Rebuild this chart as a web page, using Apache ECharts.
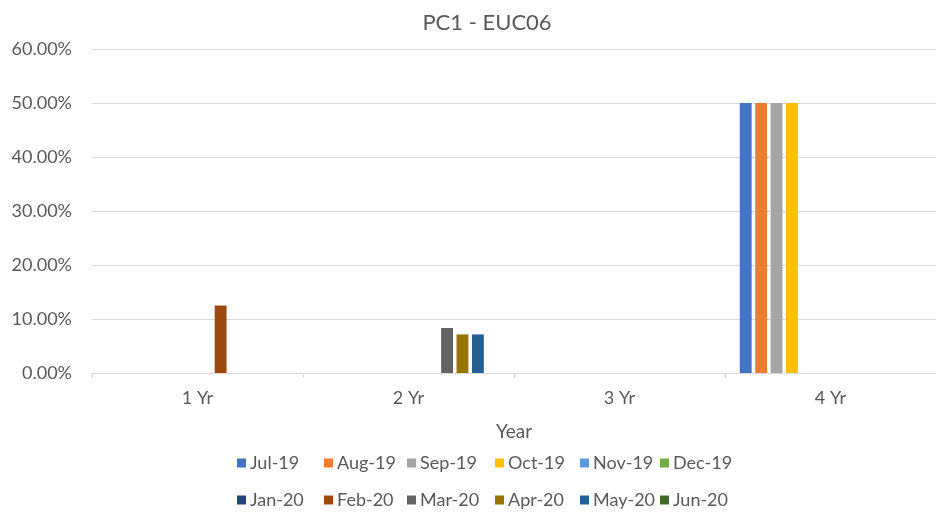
<!DOCTYPE html>
<html>
<head>
<meta charset="utf-8">
<script src="https://cdn.jsdelivr.net/npm/echarts@6/dist/echarts.min.js"></script>
<style>
  html, body { margin: 0; padding: 0; background: #ffffff; }
  #chart { width: 936px; height: 515px; }
</style>
</head>
<body>
<div id="chart"></div>
<script>
// Term buckets on the x axis
const categories = ['1 Yr', '2 Yr', '3 Yr', '4 Yr'];

// Month series (percent values per term bucket; null = no bar)
const months = ['Jul-19', 'Aug-19', 'Sep-19', 'Oct-19', 'Nov-19', 'Dec-19',
                'Jan-20', 'Feb-20', 'Mar-20', 'Apr-20', 'May-20', 'Jun-20'];
const jul19 = [null, null, null, 50];
const aug19 = [null, null, null, 50];
const sep19 = [null, null, null, 50];
const oct19 = [null, null, null, 50];
const nov19 = [null, null, null, null];
const dec19 = [null, null, null, null];
const jan20 = [null, null, null, null];
const feb20 = [12.5, null, null, null];
const mar20 = [null, 8.33, null, null];
const apr20 = [null, 7.14, null, null];
const may20 = [null, 7.14, null, null];
const jun20 = [null, null, null, null];
const seriesValues = [jul19, aug19, sep19, oct19, nov19, dec19,
                      jan20, feb20, mar20, apr20, may20, jun20];

// Y axis ticks
const yTicks = [0, 10, 20, 30, 40, 50, 60];

const colors = ['#4472C4', '#ED7D31', '#A5A5A5', '#FFC000', '#5B9BD5', '#70AD47',
                '#264478', '#9E480E', '#636363', '#997300', '#255E91', '#43682B'];

const textColor = '#595959';
const fontFamily = 'Lato, "Liberation Sans", sans-serif';

const chart = echarts.init(document.getElementById('chart'), null, { renderer: 'canvas' });

// Legend: two rows of six, each entry in its own column slot
const legendColumns = [237, 324, 407, 495, 580, 660];
const legendRows = [454, 491];
const legends = months.map((m, i) => ({
  data: [m],
  left: legendColumns[i % 6],
  top: legendRows[Math.floor(i / 6)],
  icon: 'rect',
  itemWidth: 9,
  itemHeight: 9,
  padding: 0,
  textStyle: { color: textColor, fontSize: 18, fontFamily: fontFamily, padding: [0, 0, 0, -1] },
  selectedMode: false
}));

chart.setOption({
  animation: false,
  color: colors,
  title: {
    text: 'PC1 - EUC06',
    left: 482,
    textAlign: 'center',
    top: 7,
    textStyle: { color: textColor, fontSize: 22, fontWeight: 'normal', fontFamily: fontFamily }
  },
  legend: legends,
  grid: { left: 92, right: -5, top: 49, bottom: 142, containLabel: false },
  xAxis: {
    type: 'category',
    data: categories,
    name: 'Year',
    nameLocation: 'middle',
    nameGap: 49,
    nameTextStyle: { color: textColor, fontSize: 19, fontFamily: fontFamily },
    axisLine: { lineStyle: { color: '#D9D9D9', width: 1 } },
    axisTick: { show: true, length: 5, lineStyle: { color: '#D9D9D9' } },
    axisLabel: { color: textColor, fontSize: 18, fontFamily: fontFamily, margin: 16 }
  },
  yAxis: {
    type: 'value',
    min: yTicks[0],
    max: yTicks[yTicks.length - 1],
    interval: yTicks[1] - yTicks[0],
    axisLine: { show: false },
    axisTick: { show: false },
    splitLine: { lineStyle: { color: '#D9D9D9', width: 1 } },
    axisLabel: {
      color: textColor, fontSize: 18, fontFamily: fontFamily, margin: 20,
      formatter: v => v.toFixed(2) + '%'
    }
  },
  series: months.map((m, i) => ({
    name: m,
    type: 'bar',
    data: seriesValues[i],
    barGap: '30%',
    barCategoryGap: '14%'
  }))
});
</script>
</body>
</html>
